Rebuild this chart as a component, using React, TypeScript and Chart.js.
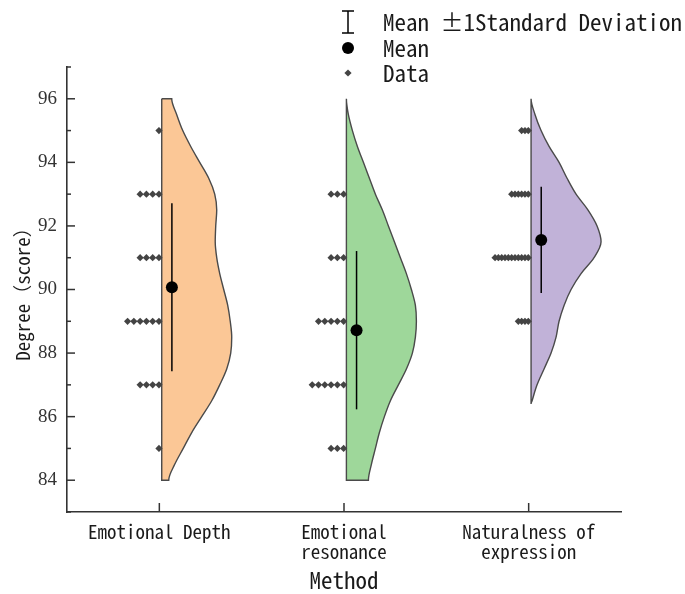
import React, { useEffect, useRef } from 'react';
import { Chart, registerables } from 'chart.js';

Chart.register(...registerables);

// ---------- data ----------
const categories: string[][] = [['Emotional Depth'], ['Emotional', 'resonance'], ['Naturalness of', 'expression']];
const yTicks = [84, 86, 88, 90, 92, 94, 96];

// violin outlines: score levels and relative density (peak = 70)
const depthLevels = [96, 95.5, 95, 94.5, 94, 93.5, 93, 92.5, 92, 91.5, 91, 90.5, 90, 89.5, 89, 88.5, 88, 87.5, 87, 86.5, 86, 85.5, 85, 84.5, 84];
const depthDensity = [10, 15, 21, 29, 38, 47, 53, 55, 54, 53.5, 55, 58, 62, 66, 68.5, 70, 69, 65, 58, 50, 40, 30, 21.5, 13, 7];

const resonanceLevels = [96, 95.5, 95, 94.5, 94, 93.5, 93, 92.5, 92, 91.5, 91, 90.5, 90, 89.5, 89, 88.5, 88, 87.5, 87, 86.5, 86, 85.5, 85, 84.5, 84];
const resonanceDensity = [0, 2, 6, 11, 17, 23, 29, 36, 42, 48, 54, 60, 65, 69, 70, 69, 66, 60, 52, 44, 38, 33, 29, 25, 22];

const naturalLevels = [96, 95.5, 95, 94.5, 94, 93.5, 93, 92.5, 92, 91.5, 91, 90.5, 90, 89.5, 89, 88.5, 88, 87.5, 87, 86.5, 86.4];
const naturalDensity = [0, 4, 10, 18, 28, 36, 45, 57, 66, 70, 63, 50, 40, 33, 28, 25, 20, 13, 6, 1, 0];

const means = [90.07, 88.72, 91.56];
const stdDevs = [2.64, 2.49, 1.67];

// individual data points: score level and number of points at that level
const dotLevels = [
  [95, 93, 91, 89, 87, 85],
  [93, 91, 89, 87, 85],
  [95, 93, 91, 89],
];
const dotCounts = [
  [1, 4, 4, 6, 4, 1],
  [3, 3, 5, 6, 3],
  [3, 6, 11, 4],
];

// ---------- style ----------
const fills = ['#FBC796', '#9ED79A', '#C1B2D8'];
const VIOLIN_BORDER = '#4a4a4a';
const AXIS = '#333333';
const TEXT = '#1a1a1a';
const DOT = '#444444';
const MONO = '"Noto Sans Mono CJK SC", "Liberation Mono", monospace';
const SERIF = '"Liberation Serif", "Times New Roman", serif';
const DENS_MAX = 70;
const VIOLIN_MAX_W = 0.379;
const VIOLIN_OFFSET = 0.013;
const MEAN_OFFSET = 0.068;
const DOT_START = -0.002;
const DOT_SPACING = [0.034, 0.034, 0.018];

const violins = [
  { levels: depthLevels, dens: depthDensity },
  { levels: resonanceLevels, dens: resonanceDensity },
  { levels: naturalLevels, dens: naturalDensity },
];

function buildDatasets() {
  const ds: any[] = [];
  violins.forEach((v, i) => {
    const base = i + VIOLIN_OFFSET;
    const top = v.levels[0];
    const bottom = v.levels[v.levels.length - 1];
    const pts = [
      { x: base, y: top },
      ...v.levels.map((lv, k) => ({ x: base + (v.dens[k] / DENS_MAX) * VIOLIN_MAX_W, y: lv })),
      { x: base, y: bottom },
      { x: base, y: top },
    ];
    ds.push({
      type: 'line',
      data: pts,
      indexAxis: 'y',
      cubicInterpolationMode: 'monotone',
      fill: 'shape',
      backgroundColor: fills[i],
      borderColor: VIOLIN_BORDER,
      borderWidth: 1.4,
      pointRadius: 0,
      order: 4,
    });
  });

  const dots: { x: number; y: number }[] = [];
  dotLevels.forEach((levels, i) => {
    levels.forEach((lv, k) => {
      for (let j = 0; j < dotCounts[i][k]; j++) {
        dots.push({ x: i + DOT_START - j * DOT_SPACING[i], y: lv });
      }
    });
  });
  ds.push({
    type: 'line',
    data: dots,
    showLine: false,
    pointStyle: 'rectRot',
    pointRadius: 3.6,
    backgroundColor: DOT,
    borderColor: DOT,
    borderWidth: 0,
    order: 3,
  });

  means.forEach((m, i) => {
    ds.push({
      type: 'line',
      data: [
        { x: i + MEAN_OFFSET, y: m - stdDevs[i] },
        { x: i + MEAN_OFFSET, y: m + stdDevs[i] },
      ],
      borderColor: '#000',
      borderWidth: 1.5,
      pointRadius: 0,
      order: 2,
    });
  });

  ds.push({
    type: 'line',
    data: means.map((m, i) => ({ x: i + MEAN_OFFSET, y: m })),
    showLine: false,
    pointRadius: 6,
    backgroundColor: '#000',
    borderColor: '#000',
    borderWidth: 0,
    order: 0,
  });
  return ds;
}

const decorPlugin = {
  id: 'decor',
  afterDraw(chart: any) {
    const { ctx, chartArea, scales } = chart;
    const x = scales.x;
    const y = scales.y;
    ctx.save();
    ctx.strokeStyle = AXIS;
    ctx.lineWidth = 1.5;
    const seg = (x1: number, y1: number, x2: number, y2: number) => {
      ctx.beginPath();
      ctx.moveTo(x1, y1);
      ctx.lineTo(x2, y2);
      ctx.stroke();
    };
    // y ticks (inward), major + minor
    const majors = y.ticks.map((t: any) => t.value);
    for (let v = Math.ceil(y.min); v <= y.max; v++) {
      const py = y.getPixelForValue(v);
      const len = majors.includes(v) ? 8 : 4;
      seg(chartArea.left, py, chartArea.left + len, py);
    }
    // x ticks (inward)
    x.ticks.forEach((t: any) => {
      const px = x.getPixelForValue(t.value);
      seg(px, chartArea.bottom, px, chartArea.bottom - 9);
    });

    // legend
    const lx = 348;
    const tx = 383;
    const rows = [22, 48, 73];
    ctx.strokeStyle = '#000';
    ctx.lineWidth = 1.5;
    seg(lx, rows[0] - 11, lx, rows[0] + 11);
    seg(lx - 6, rows[0] - 11, lx + 6, rows[0] - 11);
    seg(lx - 6, rows[0] + 11, lx + 6, rows[0] + 11);
    ctx.fillStyle = '#000';
    ctx.beginPath();
    ctx.arc(lx, rows[1], 6, 0, Math.PI * 2);
    ctx.fill();
    ctx.fillStyle = DOT;
    ctx.beginPath();
    ctx.moveTo(lx, rows[2] - 3.6);
    ctx.lineTo(lx + 3.6, rows[2]);
    ctx.lineTo(lx, rows[2] + 3.6);
    ctx.lineTo(lx - 3.6, rows[2]);
    ctx.closePath();
    ctx.fill();
    ctx.fillStyle = TEXT;
    ctx.font = `23px ${MONO}`;
    ctx.textAlign = 'left';
    ctx.textBaseline = 'middle';
    ctx.fillText('Mean ±1Standard Deviation', tx, rows[0]);
    ctx.fillText('Mean', tx, rows[1]);
    ctx.fillText('Data', tx, rows[2]);
    ctx.restore();
  },
};

export default function App() {
  const ref = useRef<HTMLCanvasElement | null>(null);
  useEffect(() => {
    if (!ref.current) return;
    const chart = new Chart(ref.current, {
      type: 'line',
      data: { datasets: buildDatasets() },
      options: {
        animation: false,
        responsive: false,
        events: [],
        layout: { padding: { top: 67, right: 64, left: 0, bottom: 0 } },
        plugins: { legend: { display: false }, tooltip: { enabled: false } },
        scales: {
          x: {
            type: 'linear',
            min: -0.5,
            max: 2.5,
            afterBuildTicks: (s: any) => {
              s.ticks = categories.map((_, i) => ({ value: i }));
            },
            afterFit: (s: any) => {
              s.height = 82;
            },
            grid: { display: false, drawTicks: false, tickLength: 0 },
            border: { display: true, color: AXIS, width: 1.6 },
            ticks: {
              callback: (v: any) => categories[v],
              font: { family: MONO, size: 19, lineHeight: 1.05 },
              color: TEXT,
              padding: 10,
              maxRotation: 0,
              autoSkip: false,
            },
            title: {
              display: true,
              text: 'Method',
              font: { family: MONO, size: 23, lineHeight: 1.2 },
              color: TEXT,
              padding: { top: 0, bottom: 0 },
            },
          },
          y: {
            type: 'linear',
            min: 83,
            max: 97,
            afterBuildTicks: (s: any) => {
              s.ticks = yTicks.map((v) => ({ value: v }));
            },
            afterFit: (s: any) => {
              s.width = 67;
            },
            grid: { display: false, drawTicks: false, tickLength: 0 },
            border: { display: true, color: AXIS, width: 1.6 },
            ticks: {
              font: { family: SERIF, size: 19 },
              color: '#333',
              padding: 10,
            },
            title: {
              display: true,
              text: 'Degree（score）',
              font: { family: MONO, size: 19, lineHeight: 1.2 },
              color: TEXT,
              padding: { top: 11, bottom: 0 },
            },
          },
        },
      },
      plugins: [decorPlugin],
    } as any);
    return () => chart.destroy();
  }, []);
  return (
    <div style={{ position: 'absolute', left: 0, top: 0, width: 685, height: 594 }}>
      <canvas ref={ref} width={685} height={594} style={{ width: 685, height: 594 }} />
    </div>
  );
}
